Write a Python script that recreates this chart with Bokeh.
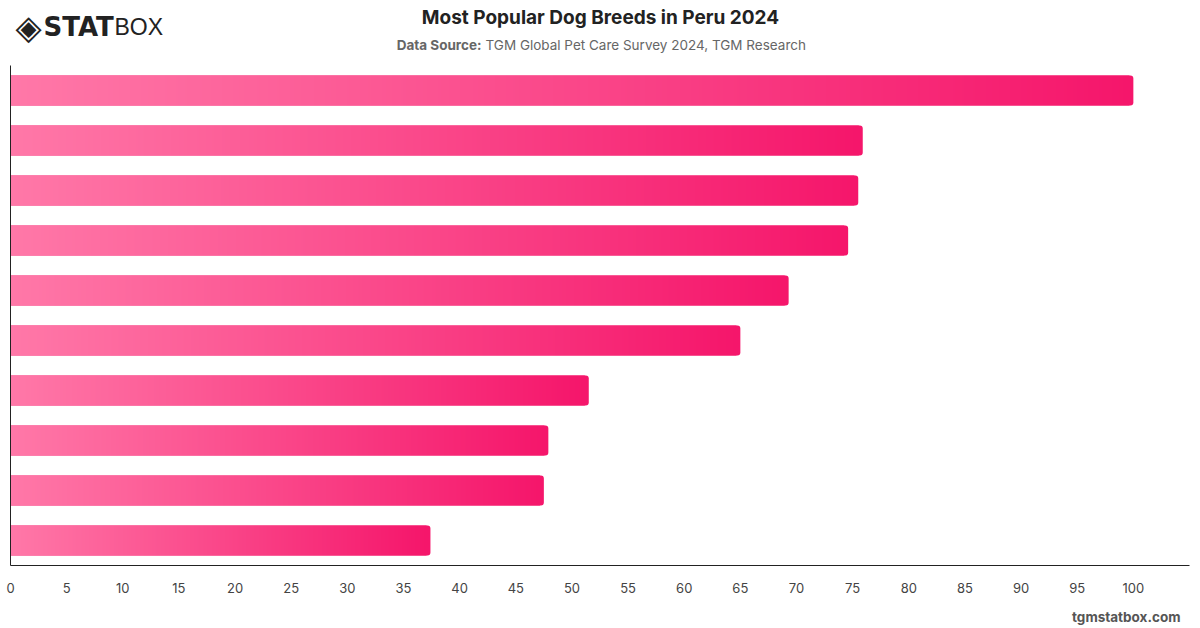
import numpy as np
from bokeh.plotting import figure
from bokeh.layouts import column
from bokeh.models import Label, Range1d, FixedTicker
from bokeh.embed import file_html
from bokeh.resources import INLINE

# Popularity index by breed rank (top breed = 100)
ranks = [1, 2, 3, 4, 5, 6, 7, 8, 9, 10]
scores = [100.0, 75.9, 75.5, 74.6, 69.3, 65.0, 51.5, 47.9, 47.5, 37.4]
x_ticks = list(range(0, 101, 5))

TITLE = "Most Popular Dog Breeds in Peru 2024"
SOURCE_LABEL = "Data Source:"
SOURCE_TEXT = "TGM Global Pet Care Survey 2024, TGM Research"
SITE = "tgmstatbox.com"

FONT = "Inter"
START = np.array([255, 120, 168])   # light pink at bar base
END = np.array([245, 22, 107])      # deep pink at bar tip
END_HEX = "#%02x%02x%02x" % tuple(END)
BAR_H = 0.6
W = 1200
BORDER_L, BORDER_R = 10, 11          # side borders shared by every row of the layout


def text_strip(height):
    """An axis-free strip whose data units are page pixels, for header/footer text.

    The column layout aligns its rows' side borders, so the strip's frame spans
    the same pixel columns as the chart frame; the x range covers exactly those.
    """
    f = figure(width=W, height=height,
               x_range=Range1d(BORDER_L, W - BORDER_R), y_range=Range1d(height, 0),
               output_backend="svg", toolbar_location=None,
               x_axis_location=None, y_axis_location=None,
               min_border=0, min_border_left=BORDER_L, min_border_right=BORDER_R,
               min_border_top=0, min_border_bottom=0)
    f.grid.visible = False
    f.outline_line_color = None
    return f


def put(fig, text, x, y, size, color, style="normal", align="center", font=FONT):
    fig.add_layout(Label(x=x, y=y, text=text, text_font=font, text_font_size=size,
                         text_color=color, text_font_style=style,
                         text_align=align, text_baseline="middle"))


# ---- header: logo, title, source line
head = text_strip(65)
put(head, "\u25c8", 28, 26, "34px", "#222222", "normal", "center", "DejaVu Sans")
put(head, "STAT", 43, 26, "26px", "#222222", "bold", "left", "DejaVu Sans")
put(head, "BOX", 114, 26, "23px", "#222222", "normal", "left", "Liberation Sans")
put(head, TITLE, 600, 17, "19px", "#222222", "bold")
put(head, SOURCE_LABEL, 481, 44, "13.5px", "#666666", "bold", "right")
put(head, SOURCE_TEXT, 485, 44, "13.5px", "#666666", "normal", "left")

# ---- main bar chart
p = figure(width=W, height=540,
           x_range=Range1d(0, 105), y_range=Range1d(0.5, 10.5),
           output_backend="svg", toolbar_location=None,
           min_border_left=BORDER_L, min_border_right=BORDER_R,
           min_border_top=0, min_border_bottom=40)
p.outline_line_color = None
p.grid.visible = False

ypos = [11 - r for r in ranks]

# solid bar with rounded tip
p.hbar(y=ypos, left=0, right=scores, height=BAR_H,
       fill_color=END_HEX, line_color=None, border_radius=(0, 3, 3, 0))

# gradient fill laid over each bar, stopping just short of the rounded tip
ramp = np.linspace(0, 1, 512)[:, None]
rgb = (START + (END - START) * ramp).round().astype(np.uint8)
grad = np.empty((1, 512), dtype=np.uint32)
view = grad.view(dtype=np.uint8).reshape((1, 512, 4))
view[0, :, 0:3] = rgb
view[0, :, 3] = 255
for yp, v in zip(ypos, scores):
    p.image_rgba(image=[grad], x=0, y=yp - BAR_H / 2, dw=v - 0.35, dh=BAR_H)

p.yaxis.ticker = FixedTicker(ticks=[])
p.yaxis.axis_line_color = "#222222"
p.yaxis.major_tick_line_color = None
p.yaxis.minor_tick_line_color = None

p.xaxis.ticker = FixedTicker(ticks=x_ticks)
p.xaxis.axis_line_color = "#222222"
p.xaxis.major_tick_line_color = None
p.xaxis.minor_tick_line_color = None
p.xaxis.major_label_standoff = 11
p.xaxis.major_label_text_font = FONT
p.xaxis.major_label_text_font_size = "13px"
p.xaxis.major_label_text_color = "#444444"

# ---- footer
foot = text_strip(23)
put(foot, SITE, 1180, 11, "13.5px", "#555555", "bold", "right")

layout = column(head, p, foot, spacing=0)
open("out.html", "w").write(file_html(layout, INLINE))
